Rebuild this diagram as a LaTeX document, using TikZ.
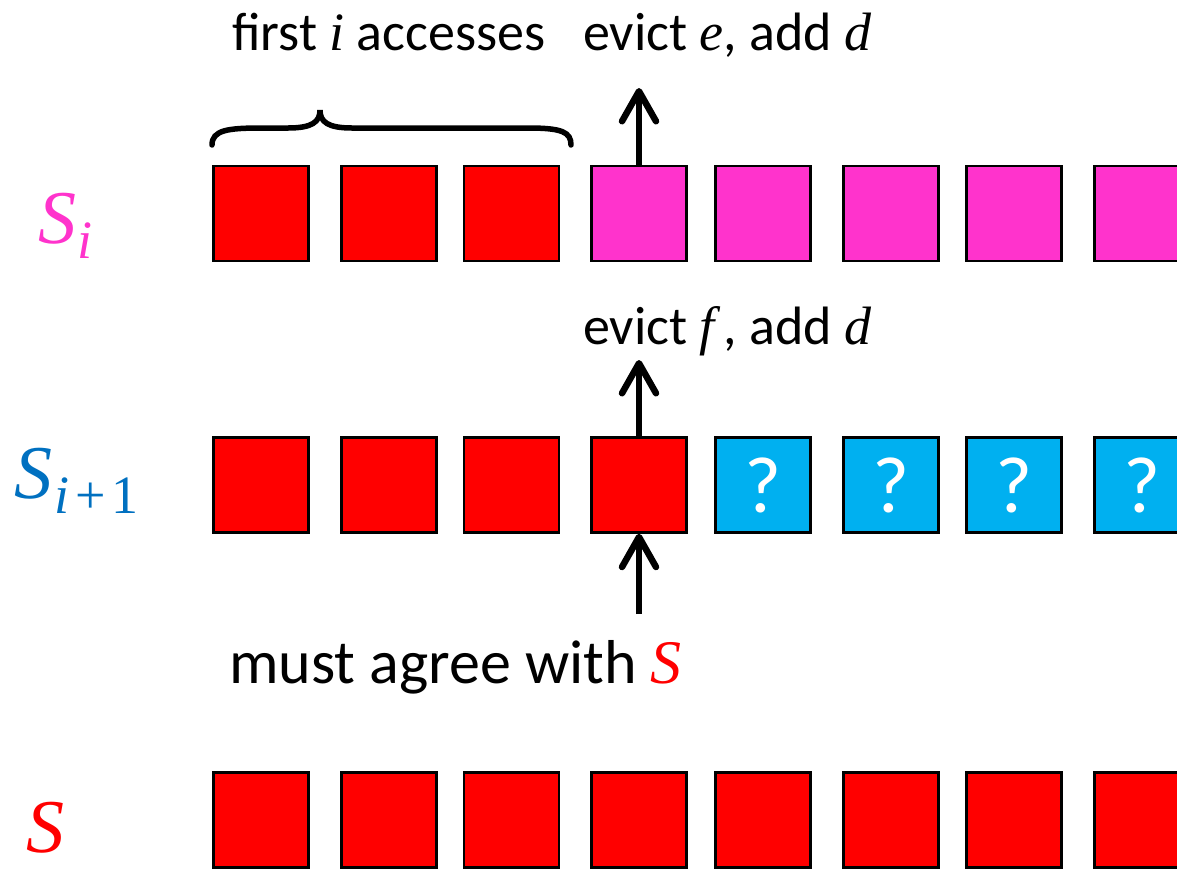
\documentclass[tikz,border=0pt]{standalone}
\usepackage{fontspec}
\setmainfont{Carlito}
\newfontfamily\varfont{Liberation Serif}
\usetikzlibrary{arrows.meta}
\definecolor{cellred}{HTML}{FF0000}
\definecolor{cellpink}{HTML}{FF33CC}
\definecolor{cellcyan}{HTML}{00B0F0}
\definecolor{labelblue}{HTML}{0070C0}
\newcommand{\var}[1]{{\varfont\itshape #1}}
\begin{document}
\begin{tikzpicture}[x=1pt,y=-1pt,
  cell/.style={draw=black,line width=2.5pt,minimum width=95pt,minimum height=95pt,inner sep=0pt,
    font=\fontsize{80}{84}\selectfont\color{white}},
  redcell/.style={cell,fill=cellred},
  pinkcell/.style={cell,fill=cellpink},
  cyancell/.style={cell,fill=cellcyan},
  bigarrow/.style={line width=6.5pt,-{Straight Barb[length=30pt,width=34pt,round]}},
  caption/.style={anchor=base west,inner sep=0pt,font=\fontsize{54}{58}\selectfont},
  rowlabel/.style={anchor=base west,inner sep=0pt,font=\fontsize{76}{80}\selectfont}]
\useasboundingbox (0,0) rectangle (1177,868);

% row S_i
\node[redcell]  (a1) at (261,213.5) {};
\node[redcell]  (a2) at (389,213.5) {};
\node[redcell]  (a3) at (511.5,213.5) {};
\node[pinkcell] (a4) at (639,213.5) {};
\node[pinkcell] (a5) at (763,213.5) {};
\node[pinkcell] (a6) at (891,213.5) {};
\node[pinkcell] (a7) at (1014,213.5) {};
\node[pinkcell] (a8) at (1142,213.5) {};

% row S_{i+1}
\node[redcell]  (b1) at (261,485) {};
\node[redcell]  (b2) at (389,485) {};
\node[redcell]  (b3) at (511.5,485) {};
\node[redcell]  (b4) at (639,485) {};
\node[cyancell] (b5) at (763,485) {?};
\node[cyancell] (b6) at (891,485) {?};
\node[cyancell] (b7) at (1014,485) {?};
\node[cyancell] (b8) at (1142,485) {?};

% row S
\node[redcell] (c1) at (261,820) {};
\node[redcell] (c2) at (389,820) {};
\node[redcell] (c3) at (511.5,820) {};
\node[redcell] (c4) at (639,820) {};
\node[redcell] (c5) at (763,820) {};
\node[redcell] (c6) at (891,820) {};
\node[redcell] (c7) at (1014,820) {};
\node[redcell] (c8) at (1142,820) {};

% row labels
\node[rowlabel,text=cellpink] (li) at (38,243)
  {\var{S}\hspace{1pt}\raisebox{-15pt}{\fontsize{54}{58}\selectfont\var{i}}};
\node[rowlabel,text=labelblue] (lip) at (14,498)
  {\var{S}\hspace{2pt}\raisebox{-15pt}{\fontsize{54}{58}\selectfont\var{i}\varfont\hspace{6pt}+\hspace{6pt}1}};
\node[rowlabel,text=cellred] (ls) at (26,852) {\var{S}};

% captions
\node[caption] (tfirst) at (232,50) {first \var{i} accesses};
\node[caption] (tevicte) at (583,50) {evict \var{e}, add \var{d}};
\node[caption] (tevictf) at (583,344) {evict \var{f}\,, add \var{d}};
\node[caption,font=\fontsize{62}{66}\selectfont] (tagree) at (229,683) {must agree with \textcolor{cellred}{\var{S}}};

% arrows
\coordinate (upA) at (639,88);
\coordinate (upB) at (639,360);
\coordinate (lowB) at (639,614);
\draw[bigarrow] (a4.north) -- (upA);
\draw[bigarrow] (b4.north) -- (upB);
\draw[bigarrow] (lowB) -- (b4.south);

% brace over the first three cells
\draw[line width=5.5pt,line cap=round]
  (212,145) .. controls (212,130) and (228,128) .. (262,128)
  -- (288,128) .. controls (312,128) and (320,122) .. (320,110)
  .. controls (320,122) and (328,128) .. (352,128)
  -- (528,128) .. controls (562,128) and (571,132) .. (571,145);
\end{tikzpicture}
\end{document}
